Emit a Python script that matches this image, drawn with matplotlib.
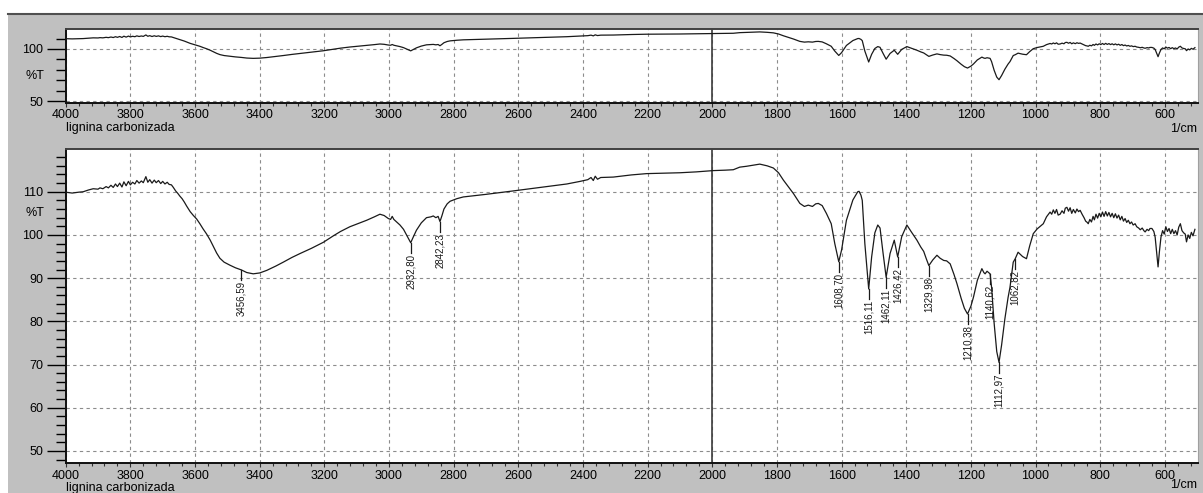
import numpy as np
import matplotlib
matplotlib.use("Agg")
import matplotlib.pyplot as plt
from matplotlib import font_manager
from matplotlib.patches import Rectangle
from matplotlib.lines import Line2D
from matplotlib.ticker import MultipleLocator

# FTIR spectrum of carbonised lignin (wavenumber in 1/cm, transmittance in %T)
wavenumber = [
    4000, 3980, 3960, 3946, 3930, 3915, 3900, 3894, 3885, 3875, 3868, 3860, 3853, 3846,
    3840, 3833, 3826, 3820, 3813, 3806, 3800, 3793, 3786, 3780, 3773, 3766, 3760, 3752,
    3746, 3740, 3733, 3726, 3720, 3713, 3706, 3700, 3693, 3686, 3680, 3673, 3667, 3660,
    3653, 3647, 3640, 3633, 3626, 3615, 3605, 3595, 3585, 3575, 3564, 3553, 3543, 3533,
    3523, 3510, 3492, 3475, 3456.59, 3440, 3420, 3400, 3378, 3350, 3327, 3300, 3275, 3240,
    3203, 3172, 3150, 3121, 3090, 3069, 3045, 3028, 3015, 3002, 2995, 2990, 2985, 2966,
    2955, 2945, 2932.80, 2925, 2915, 2900, 2884, 2870, 2863, 2855, 2848, 2842.23, 2836,
    2830, 2820, 2811, 2790, 2770, 2700, 2615, 2512, 2450, 2409, 2385, 2375, 2368, 2362,
    2355, 2345, 2306, 2250, 2203, 2150, 2100, 2050, 1997, 1960, 1935, 1915, 1894, 1870,
    1853, 1830, 1811, 1795, 1780, 1765, 1749, 1735, 1729, 1715, 1703, 1690, 1680, 1672,
    1660, 1647, 1632, 1621, 1608.70, 1600, 1585, 1565, 1550, 1546, 1540, 1536, 1528,
    1516.11, 1507, 1497, 1488, 1481, 1472, 1462.11, 1450, 1437, 1432, 1426.42, 1414, 1398,
    1385, 1367, 1355, 1346, 1338, 1329.98, 1318, 1305, 1295, 1284, 1275, 1264, 1252, 1243,
    1230, 1220, 1210.38, 1200, 1192, 1180, 1166, 1160, 1156, 1150, 1140.62, 1136, 1128,
    1120, 1112.97, 1105, 1095, 1085, 1079, 1069, 1062.82, 1054, 1040, 1028, 1018, 1007,
    995, 987, 976, 966, 955, 950, 945, 940, 935, 930, 924, 918, 912, 908, 903, 898, 893,
    888, 883, 877, 872, 867, 862, 856, 850, 845, 840, 837, 832, 827, 822, 818, 813, 808,
    803, 798, 793, 788, 783, 778, 773, 768, 763, 758, 753, 748, 743, 738, 733, 728, 723,
    718, 713, 708, 703, 698, 692, 687, 681, 676, 670, 665, 661, 655, 650, 646, 640, 634,
    630, 626, 621, 617, 612, 607, 602, 597, 592, 587, 582, 577, 572, 567, 562, 557, 552,
    547, 542, 537, 533, 528, 523, 518, 513, 507,
]
transmittance = [
    109.9, 109.7, 109.9, 110.0, 110.4, 110.7, 110.6, 110.9, 110.7, 111.2, 110.9, 111.5, 111.0, 111.8,
    111.2, 112.0, 111.1, 112.3, 111.4, 112.4, 111.6, 112.2, 111.8, 112.6, 112.0, 112.5, 112.1, 113.5,
    112.2, 112.8, 112.0, 112.7, 112.1, 112.6, 111.9, 112.4, 111.8, 112.2, 111.7, 111.6, 111.0, 110.2,
    109.6, 109.0, 108.4, 107.6, 106.7, 105.4, 104.5, 103.7, 102.6, 101.4, 100.2, 98.8, 97.3, 95.8,
    94.6, 93.7, 93.0, 92.4, 91.9, 91.3, 91.0, 91.2, 91.8, 92.8, 93.7, 94.8, 95.7, 96.9,
    98.3, 99.8, 100.8, 101.9, 102.8, 103.4, 104.2, 104.8, 104.5, 103.8, 103.6, 104.3, 103.6, 102.3,
    101.3, 99.9, 98.2, 99.5, 101.1, 102.8, 104.0, 104.2, 104.4, 104.0, 104.3, 103.1, 104.5,
    106.0, 107.2, 107.8, 108.4, 108.8, 109.4, 110.2, 111.2, 111.8, 112.4, 112.8, 113.3, 112.6, 113.6,
    112.9, 113.3, 113.4, 113.9, 114.2, 114.3, 114.4, 114.6, 114.9, 115.0, 115.1, 115.7, 115.9, 116.2,
    116.4, 116.0, 115.5, 114.4, 112.7, 111.2, 109.6, 108.0, 107.3, 106.6, 106.9, 106.6, 107.2, 107.3,
    106.8, 105.0, 102.6, 98.0, 93.8, 96.5, 103.4, 108.1, 110.0, 110.1, 109.2, 108.0, 98.0,
    87.5, 94.9, 100.5, 102.3, 101.6, 96.0, 90.2, 95.7, 98.8, 97.0, 94.9, 99.6, 102.3,
    100.8, 98.8, 97.2, 96.2, 94.5, 92.9, 94.2, 95.3, 94.6, 94.1, 94.0, 93.3, 90.8, 88.7,
    85.3, 83.0, 81.7, 83.5, 85.6, 89.5, 92.2, 91.3, 91.0, 91.6, 91.0, 87.9, 79.5,
    73.0, 70.5, 74.5, 80.5, 85.5, 87.9, 93.7, 94.5, 96.0, 95.0, 94.5, 97.5, 100.3,
    101.4, 101.9, 102.6, 104.2, 105.3, 104.8, 105.8, 105.0, 105.9, 104.6, 104.8, 105.6, 105.0, 106.2, 106.4, 105.5, 106.3,
    105.0, 105.9, 105.1, 106.0, 105.4, 105.7, 104.8, 104.0, 103.2, 102.9, 102.6, 103.6, 103.0, 104.3, 103.5, 104.8, 103.9,
    105.0, 104.2, 105.3, 104.3, 105.4, 104.4, 105.2, 104.2, 105.0, 104.0, 104.9, 103.9, 104.6, 103.5, 104.3, 103.2, 103.8,
    102.9, 103.4, 102.6, 103.0, 102.3, 102.6, 101.9, 101.6, 101.2, 101.6, 101.0, 100.7, 101.3, 101.0, 101.5, 101.5, 100.8,
    99.5, 96.5, 92.6, 96.0, 99.5, 101.0, 100.2, 101.9, 100.8, 101.5, 100.3, 101.3, 100.3, 101.0, 100.0, 101.8, 102.6,
    101.0, 100.5, 100.2, 98.4, 100.0, 99.2, 100.6, 99.8, 101.3,
]

# picked peaks
peaks = [3456.59, 2932.80, 2842.23, 1608.70, 1516.11, 1462.11, 1426.42,
         1329.98, 1210.38, 1140.62, 1112.97, 1062.82]

W, H = 1203, 493
available = {f.name for f in font_manager.fontManager.ttflist}
plt.rcParams['font.family'] = 'Liberation Sans'
peak_font = 'Liberation Sans Narrow' if 'Liberation Sans Narrow' in available else 'Liberation Sans'

fig = plt.figure(figsize=(W / 100, H / 100), dpi=100)
fig.patch.set_facecolor('white')

# grey window background
fig.patches.append(Rectangle((8 / W, 0), 1, 1 - 14 / H, transform=fig.transFigure,
                             facecolor='#c0c0c0', edgecolor='none', zorder=-10))
fig.add_artist(Line2D([8 / W, 1], [1 - 14 / H, 1 - 14 / H], color='#505050', lw=1.5))

left = 65.7 / W
width = (1197.5 - 65.7) / W


def px_axes(top_px, bottom_px):
    return fig.add_axes([left, 1 - bottom_px / H, width, (bottom_px - top_px) / H])


ax_top = px_axes(29, 102.5)
ax_bot = px_axes(149, 463)


def style_axes(ax, ylim, ymajor, yminor, ylabel_y):
    ax.set_facecolor('white')
    ax.plot(wavenumber, transmittance, color='#1a1a1a', lw=0.9, zorder=3)
    ax.set_xlim(4000, 499)
    ax.set_ylim(*ylim)
    ax.xaxis.set_major_locator(MultipleLocator(200))
    ax.xaxis.set_minor_locator(MultipleLocator(40))
    ax.yaxis.set_major_locator(MultipleLocator(ymajor))
    ax.yaxis.set_minor_locator(MultipleLocator(yminor))
    ax.grid(True, which='major', color='#8c8c8c', lw=0.8, linestyle=(0, (3, 3)))
    ax.axvline(2000, color='#3c3c3c', lw=1.2, zorder=2)
    ax.tick_params(axis='x', which='major', direction='out', length=3, width=0.8,
                   pad=2, labelsize=9, color='#303030')
    ax.tick_params(axis='x', which='minor', direction='out', length=2.5, width=0.8,
                   color='#303030')
    ax.tick_params(axis='y', which='major', direction='out', length=13.7, width=1.0,
                   pad=2.5, labelsize=9)
    ax.tick_params(axis='y', which='minor', direction='out', length=7.2, width=1.0)
    for side in ('left', 'bottom'):
        ax.spines[side].set_color('#101010')
        ax.spines[side].set_linewidth(1.4)
    ax.spines['top'].set_color('#404040')
    ax.spines['top'].set_linewidth(1.4)
    ax.spines['right'].set_color('#a0a0a0')
    ax.text(-0.027, ylabel_y, '%T', transform=ax.get_yaxis_transform(),
            ha='center', va='center', fontsize=9)


style_axes(ax_top, (48.6, 119.2), 50, 10, 74)
style_axes(ax_bot, (47.2, 119.9), 10, 2, 105)

# peak markers on the detailed spectrum
wn_asc = np.array(wavenumber)[::-1]
t_asc = np.array(transmittance)[::-1]
for p in peaks:
    t = np.interp(p, wn_asc, t_asc)
    ax_bot.plot([p, p], [t, t - 2.4], color='#1a1a1a', lw=0.9, zorder=4)
    ax_bot.text(p, t - 2.6, f"{p:.2f}".replace('.', ','), rotation=90,
                ha='center', va='top', fontsize=7, family=peak_font, color='#1a1a1a')

# sample name and unit under each panel
for name_y, unit_y in ((128, 129), (488, 485)):
    fig.text(left, 1 - name_y / H, 'lignina carbonizada', ha='left', va='center', fontsize=9)
    fig.text(1197 / W, 1 - unit_y / H, '1/cm', ha='right', va='center', fontsize=9)

fig.savefig('out.png', dpi=100)
